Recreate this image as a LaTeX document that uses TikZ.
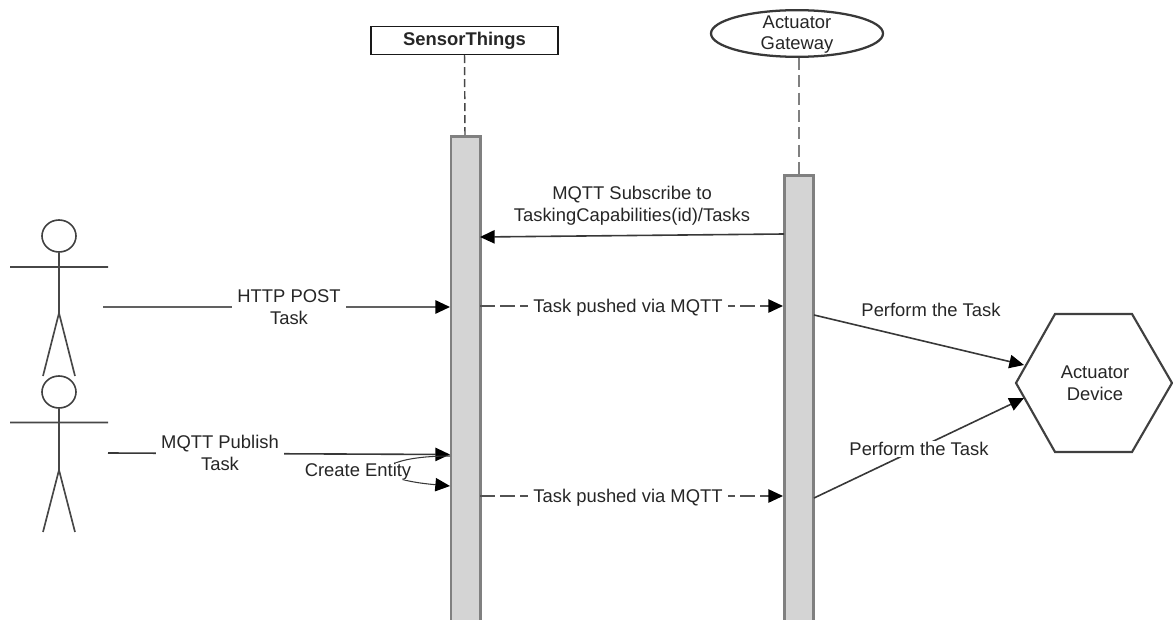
\documentclass[tikz,border=0pt]{standalone}
\usepackage{fontspec}
\setmainfont{Liberation Sans}
\usetikzlibrary{arrows.meta,shapes.geometric}
\tikzset{
  txt/.style={font=\fontsize{13.8}{16.2}\selectfont,text=black!85,align=center,inner sep=0pt},
  lbl/.style={txt,fill=white,inner xsep=4pt,inner ysep=1pt},
  bar/.style={draw=black!50,fill=black!17,line width=2pt,minimum width=22pt,inner sep=0pt,anchor=north},
  stick/.style={draw=black!72,line width=1.25pt},
  msg/.style={draw=black!78,line width=1.2pt,-{Triangle[length=11pt,width=10pt,color=black]}},
  dashmsg/.style={msg,draw=black!68,dash pattern=on 11pt off 4pt},
  life/.style={draw=black!72,line width=1.1pt,dash pattern=on 6pt off 3pt},
  headc/.style={draw=black!75,line width=1.2pt,ellipse,minimum width=25.5pt,minimum height=24pt,inner sep=0pt},
}
\begin{document}
\begin{tikzpicture}[x=0.75pt,y=-0.75pt]
\useasboundingbox (0,0) rectangle (1173,620);
% lifeline heads
\node[txt,draw=black!90,line width=1.1pt,minimum width=140pt,minimum height=21pt,font=\fontsize{13.8}{16.2}\selectfont\bfseries] (st) at (464.5,40.5) {SensorThings};
\node[draw=black!78,line width=1.7pt,ellipse,minimum width=129pt,minimum height=35pt,inner sep=0pt] (gw) at (797,33.5) {};
\node[txt] (gwt) at (797,34.5) {Actuator\\Gateway};
% activation bars
\node[bar,minimum height=363pt] (b1) at (465.5,135.5) {};
\node[bar,minimum height=334pt] (b2) at (799,174.5) {};
\coordinate (b1top) at (465,135);
\coordinate (b2top) at (799,174);
\draw[life] (st.south) -- (b1top);
\coordinate (gwb) at (799,58);
\draw[life,draw=black!50,line width=1.5pt,dash pattern=on 9pt off 4pt] (gwb) -- (b2top);
% actor 1
\node[headc] (h1) at (59,236) {};
\coordinate (n1) at (59,313);
\coordinate (a1l) at (10,267); \coordinate (a1r) at (108,267);
\coordinate (l1l) at (43,376); \coordinate (l1r) at (75,376);
\draw[stick] (h1.south) -- (n1) (a1l) -- (a1r) (l1l) -- (n1) -- (l1r);
% actor 2
\node[headc] (h2) at (59,392) {};
\coordinate (n2) at (59,470);
\coordinate (a2l) at (10,422.5); \coordinate (a2r) at (108,422.5);
\coordinate (l2l) at (43,532); \coordinate (l2r) at (75,532);
\draw[stick] (h2.south) -- (n2) (a2l) -- (a2r) (l2l) -- (n2) -- (l2r);
% device
\coordinate (p1) at (1016,383); \coordinate (p2) at (1055,314); \coordinate (p3) at (1132,314);
\coordinate (p4) at (1172,383); \coordinate (p5) at (1132,452); \coordinate (p6) at (1055,452);
\draw[draw=black!75,line width=1.6pt] (p1) -- (p2) -- (p3) -- (p4) -- (p5) -- (p6) -- cycle;
\node[txt] (dev) at (1095,383) {Actuator\\Device};
% free ends
\coordinate (u1) at (103,307); \coordinate (u2) at (108,453);
\coordinate (t1) at (450,307); \coordinate (t2) at (450,454.5);
\coordinate (ce1) at (450,456); \coordinate (ce2) at (450,486);
\coordinate (sg) at (784,234); \coordinate (sb) at (480,237);
\coordinate (d1a) at (480,306); \coordinate (d1b) at (783,306);
\coordinate (d2a) at (480,496); \coordinate (d2b) at (783,496);
\coordinate (f1a) at (814,315); \coordinate (f1b) at (1024,365);
\coordinate (f2a) at (814,498); \coordinate (f2b) at (1024,398);
% messages
\draw[msg] (sg) -- (sb);
\node[txt] (sl) at (632,205.5) {MQTT Subscribe to\\TaskingCapabilities(id)/Tasks};
\draw[msg,draw=black!62,line width=1.4pt] (u1) -- (t1);
\node[lbl] (hl) at (289,307) {HTTP POST\\Task};
\draw[msg] (u2) -- (t2);
\node[lbl] (ml) at (220,453) {MQTT Publish\\Task};
\draw[msg,line width=.8pt] (ce1) .. controls (380,456) and (360,478) .. (ce2);
\node[lbl,inner xsep=3pt,inner ysep=0pt] (cl) at (358,471.5) {Create Entity};
\draw[dashmsg] (d1a) -- (d1b);
\node[lbl] (dl1) at (628,307.5) {Task pushed via MQTT};
\draw[dashmsg] (d2a) -- (d2b);
\node[lbl] (dl2) at (628,497.5) {Task pushed via MQTT};
\draw[msg] (f1a) -- (f1b);
\node[txt] (fl1) at (931,310) {Perform the Task};
\draw[msg] (f2a) -- (f2b);
\node[lbl] (fl2) at (919,449) {Perform the Task};
\end{tikzpicture}
\end{document}
